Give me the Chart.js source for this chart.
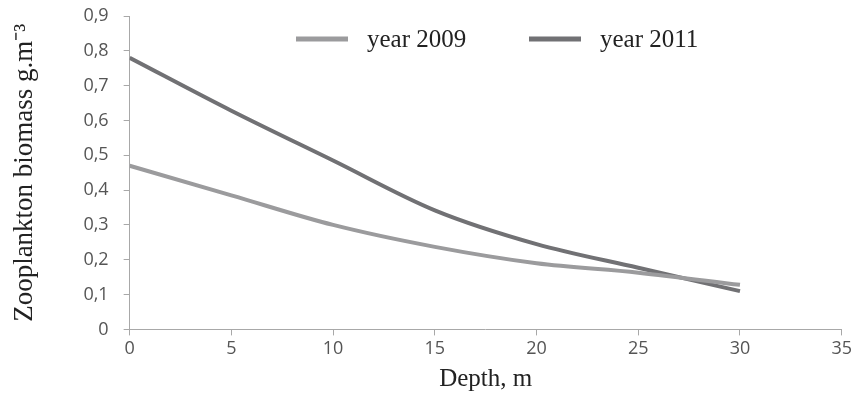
<!DOCTYPE html>
<html lang="en">
<head>
    <meta charset="UTF-8">
    <title>Zooplankton biomass by depth</title>
    <script src="https://cdn.jsdelivr.net/npm/chart.js"></script>
    <style>
        body {
            margin: 0;
            background-color: #fff;
        }
        .chart-container {
            width: 855px;
            height: 410px;
        }
    </style>
</head>
<body>
    <div class="chart-container">
        <canvas id="biomassChart" width="855" height="410"></canvas>
    </div>

    <script>
        // Depth (m) and biomass (g.m-3)
        const depths = [0, 5, 10, 15, 20, 25, 30];
        const biomass2009 = [0.47, 0.385, 0.30, 0.237, 0.19, 0.163, 0.128];
        const biomass2011 = [0.78, 0.628, 0.485, 0.342, 0.245, 0.177, 0.11];
        const seriesLabels = ['year 2009', 'year 2011'];
        const seriesColors = ['#9b9b9d', '#717174'];

        const axisColor = '#a8a8a8';
        const tickColor = '#555';

        // Legend sits inside the plot area, so draw it ourselves
        const innerLegend = {
            id: 'innerLegend',
            afterDraw(chart) {
                const ctx = chart.ctx;
                const starts = [296, 529];
                ctx.save();
                ctx.font = '25px "Liberation Serif"';
                ctx.textBaseline = 'middle';
                ctx.fillStyle = '#222';
                chart.data.datasets.forEach((ds, i) => {
                    const x = starts[i];
                    const y = 39;
                    ctx.strokeStyle = ds.borderColor;
                    ctx.lineWidth = 5;
                    ctx.beginPath();
                    ctx.moveTo(x, y);
                    ctx.lineTo(x + 52, y);
                    ctx.stroke();
                    ctx.fillText(ds.label, x + 71, y + 1);
                });
                ctx.restore();
            }
        };

        const ctx = document.getElementById('biomassChart').getContext('2d');
        new Chart(ctx, {
            type: 'line',
            data: {
                datasets: [
                    {
                        label: seriesLabels[0],
                        data: depths.map((d, i) => ({ x: d, y: biomass2009[i] })),
                        borderColor: seriesColors[0],
                        borderWidth: 4,
                        pointRadius: 0,
                        cubicInterpolationMode: 'monotone',
                        fill: false
                    },
                    {
                        label: seriesLabels[1],
                        data: depths.map((d, i) => ({ x: d, y: biomass2011[i] })),
                        borderColor: seriesColors[1],
                        borderWidth: 4,
                        pointRadius: 0,
                        cubicInterpolationMode: 'monotone',
                        fill: false
                    }
                ]
            },
            options: {
                responsive: false,
                animation: false,
                layout: {
                    padding: { left: 9, right: 6, top: 2, bottom: 16 }
                },
                plugins: {
                    legend: { display: false },
                    tooltip: { enabled: false }
                },
                scales: {
                    x: {
                        type: 'linear',
                        min: 0,
                        max: 35,
                        border: { color: axisColor, width: 1 },
                        grid: { drawOnChartArea: false, tickLength: 6, color: axisColor },
                        ticks: {
                            stepSize: 5,
                            padding: 3,
                            color: tickColor,
                            font: { family: 'Open Sans', size: 18 }
                        },
                        title: {
                            display: true,
                            text: 'Depth, m',
                            color: '#222',
                            font: { family: 'Liberation Serif', size: 25 },
                            padding: { top: 1, bottom: 0 }
                        }
                    },
                    y: {
                        min: 0,
                        max: 0.9,
                        border: { color: axisColor, width: 1 },
                        grid: { drawOnChartArea: false, tickLength: 6, color: axisColor },
                        ticks: {
                            stepSize: 0.1,
                            padding: 15,
                            color: tickColor,
                            font: { family: 'Open Sans', size: 18 },
                            callback: function(value) {
                                return value === 0 ? '0' : value.toFixed(1).replace('.', ',');
                            }
                        },
                        // the label gap would otherwise push the plot top down
                        afterFit: function(scale) {
                            scale.paddingTop = 16;
                        },
                        title: {
                            display: true,
                            text: 'Zooplankton biomass g.m⁻³',
                            color: '#222',
                            font: { family: 'Liberation Serif', size: 27 },
                            padding: { top: 0, bottom: 27 }
                        }
                    }
                }
            },
            plugins: [innerLegend]
        });
    </script>
</body>
</html>
